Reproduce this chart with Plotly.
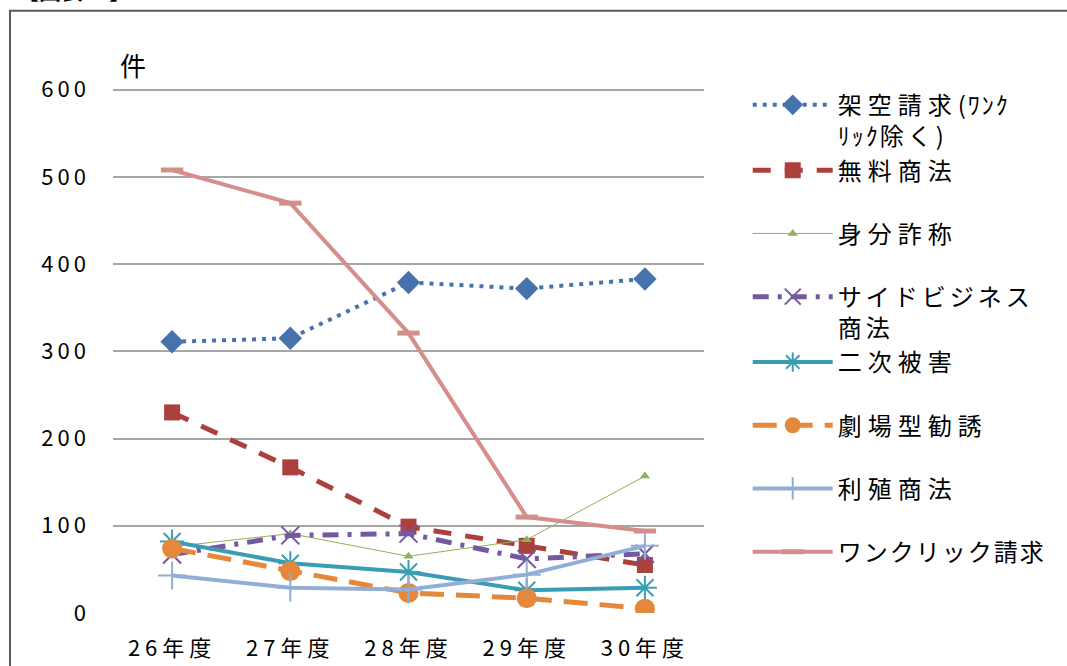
import plotly.graph_objects as go

# Fiscal years on the x axis
years = ["26年度", "27年度", "28年度", "29年度", "30年度"]

# Consultation counts (件) per scam type
kakuu_seikyu = [311, 315, 379, 372, 383]       # 架空請求(ワンクリック除く)
muryo_shoho = [230, 167, 99, 77, 55]           # 無料商法
mibun_sasho = [76, 91, 65, 84, 157]            # 身分詐称
side_business = [67, 89, 91, 62, 68]           # サイドビジネス商法
niji_higai = [82, 57, 47, 26, 29]              # 二次被害
gekijo_kanyu = [74, 48, 23, 17, 5]             # 劇場型勧誘
rishoku_shoho = [43, 29, 27, 44, 77]           # 利殖商法
one_click = [508, 470, 321, 110, 94]           # ワンクリック請求

y_ticks = [0, 100, 200, 300, 400, 500, 600]

FONT = "Noto Sans CJK JP"


def spaced(text, px):
    return f'<span style="letter-spacing:{px}px">{text}</span>'


series = [
    dict(name=spaced("架空請求", 6) + spaced("(ﾜﾝｸ", 2) + "<br>" + spaced("ﾘｯｸ", 2) + spaced("除く)", 4),
         y=kakuu_seikyu, color="#4672AE",
         dash="4px,6px", width=4, symbol="diamond", size=18, group="g1"),
    dict(name=spaced("無料商法", 6), y=muryo_shoho, color="#AC403C",
         dash="18px,14px", width=5, symbol="square", size=16, group="g1"),
    dict(name=spaced("身分詐称", 6), y=mibun_sasho, color="#8FB15A",
         dash="solid", width=1, symbol="triangle-up", size=9, group="g2"),
    dict(name=spaced("サイドビジネス", 4) + "<br>" + spaced("商法", 4), y=side_business, color="#7458A0",
         dash="16px,9px,4px,9px", width=5, symbol="x-thin-open", size=18, group="g3"),
    dict(name=spaced("二次被害", 6), y=niji_higai, color="#3A9DB3",
         dash="solid", width=4, symbol="asterisk-open", size=20, group="g3"),
    dict(name=spaced("劇場型勧誘", 6), y=gekijo_kanyu, color="#E4883C",
         dash="24px,12px", width=5, symbol="circle", size=20, group="g4"),
    dict(name=spaced("利殖商法", 6), y=rishoku_shoho, color="#93AED6",
         dash="solid", width=4, symbol="cross-thin-open", size=20, group="g5"),
    dict(name=spaced("ワンクリック請求", 2), y=one_click, color="#D48F8D",
         dash="solid", width=4, symbol="line-ew-open", size=16, group="g6"),
]

fig = go.Figure()
for s in series:
    open_marker = s["symbol"].endswith("-open")
    fig.add_trace(go.Scatter(
        x=years,
        y=s["y"],
        name=s["name"],
        legendgroup=s["group"],
        mode="lines+markers",
        line=dict(color=s["color"], width=s["width"], dash=s["dash"]),
        marker=dict(
            symbol=s["symbol"],
            size=s["size"],
            color=s["color"],
            line=dict(color=s["color"], width=5 if s["symbol"] == "line-ew-open" else (2 if open_marker else 0)),
        ),
    ))

fig.update_layout(
    width=1067,
    height=666,
    margin=dict(l=113, r=363, t=88, b=53, autoexpand=False),
    paper_bgcolor="white",
    plot_bgcolor="white",
    font=dict(family=FONT, size=22, color="#000000"),
    showlegend=True,
    legend=dict(
        x=1.074, y=1.01, xanchor="left", yanchor="top",
        valign="top",
        itemwidth=80,
        tracegroupgap=29,
        maxheight=660,
        font=dict(family=FONT, size=24, color="#000000"),
        bgcolor="rgba(0,0,0,0)",
    ),
    xaxis=dict(
        type="category",
        range=[-0.5, 4.5],
        showgrid=False,
        showline=False,
        zeroline=False,
        ticks="",
        tickvals=years,
        ticktext=[spaced(t, 5) for t in years],
        tickfont=dict(family=FONT, size=22),
        ticklabelstandoff=20,
    ),
    yaxis=dict(
        range=[0, 602],
        tickvals=y_ticks,
        ticktext=[spaced(str(v), 4) for v in y_ticks],
        showgrid=True,
        gridcolor="#A6A6A6",
        gridwidth=1.5,
        zeroline=False,
        showline=False,
        ticks="",
        tickfont=dict(family=FONT, size=22),
        ticklabelstandoff=22,
    ),
    annotations=[
        dict(text="件", xref="paper", yref="paper", x=0.008, y=1.006,
             xanchor="left", yanchor="bottom", showarrow=False,
             font=dict(family=FONT, size=26, color="#000000")),
        dict(text="<b>【図表11】</b>", xref="paper", yref="paper", x=-0.165, y=1.155,
             xanchor="left", yanchor="bottom", showarrow=False,
             font=dict(family=FONT, size=22, color="#000000")),
    ],
    shapes=[
        dict(type="rect", xref="paper", yref="paper",
             x0=-0.1743, x1=1.7, y0=-0.2, y1=1.1472,
             line=dict(color="#595959", width=2), fillcolor="rgba(0,0,0,0)",
             layer="below"),
    ],
)

fig.write_html("out.html")
